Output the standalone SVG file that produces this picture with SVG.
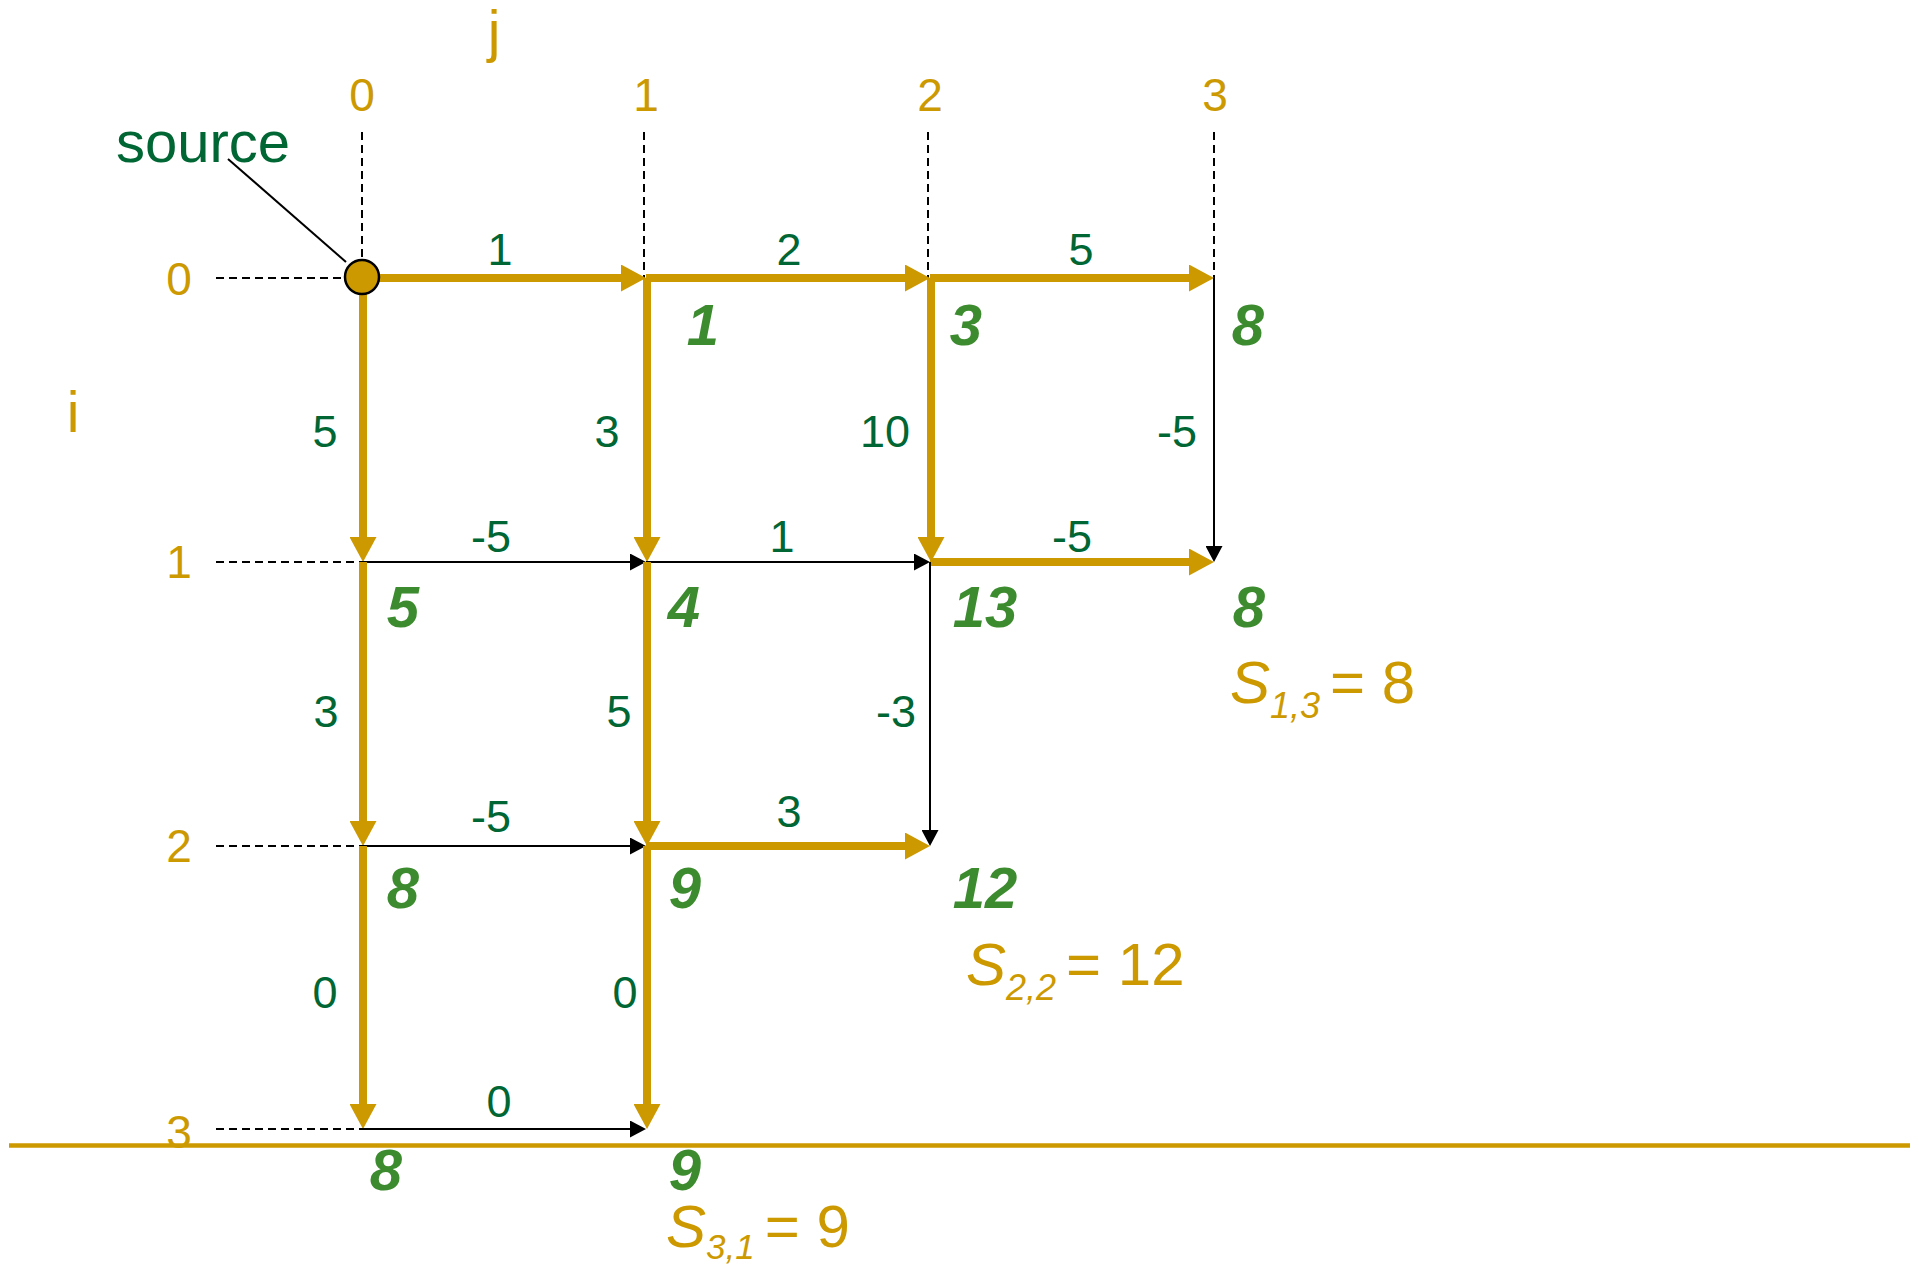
<svg xmlns="http://www.w3.org/2000/svg" width="1919" height="1267" viewBox="0 0 1919 1267">
<style>
text{font-family:"Liberation Sans",Arial,sans-serif}
.ax{fill:#CC9900;font-size:46px;text-anchor:middle}
.ij{fill:#CC9900;font-size:57px;text-anchor:middle}
.w{fill:#006633;font-size:45px;text-anchor:middle}
.v{fill:#3D8B2F;font-size:58px;font-weight:bold;font-style:italic;text-anchor:middle}
.s{fill:#CC9900;font-size:60px}
.dash{stroke:#000;stroke-width:2;stroke-dasharray:8 5;fill:none}
.g{stroke:#CC9900;stroke-width:8;fill:none;marker-end:url(#ga)}
.b{stroke:#000;stroke-width:2;fill:none;marker-end:url(#ba)}
</style>
<defs>
<marker id="ga" viewBox="0 0 25 27" refX="1" refY="13.5" markerWidth="25" markerHeight="27" markerUnits="userSpaceOnUse" orient="auto">
<path d="M0,0 L25,13.5 L0,27 Z" fill="#CC9900"/>
</marker>
<marker id="ba" viewBox="0 0 16 17" refX="1" refY="8.5" markerWidth="16" markerHeight="17" markerUnits="userSpaceOnUse" orient="auto">
<path d="M0,0 L16,8.5 L0,17 Z" fill="#000"/>
</marker>
</defs>
<rect width="1919" height="1267" fill="#fff"/>

<g id="axes">
<text class="ij" x="494" y="51">j</text>
<text class="ij" x="73" y="432">i</text>
<text class="ax" x="362" y="111">0</text>
<text class="ax" x="646" y="111">1</text>
<text class="ax" x="930" y="111">2</text>
<text class="ax" x="1215" y="111">3</text>
<text class="ax" x="179" y="295">0</text>
<text class="ax" x="179" y="578">1</text>
<text class="ax" x="179" y="862">2</text>
<text class="ax" x="179" y="1148">3</text>
<path class="dash" d="M362,132 V261 M644,132 V278 M928,132 V278 M1214,132 V278"/>
<path class="dash" d="M216,278 H345 M216,562 H362 M216,846 H362 M216,1129 H362"/>
<line x1="9" y1="1145.5" x2="1910" y2="1145.5" stroke="#CC9900" stroke-width="4.5"/>
</g>

<g id="connectors">
<line class="g" x1="362" y1="278" x2="622" y2="278"/>
<line class="g" x1="646" y1="278" x2="906" y2="278"/>
<line class="g" x1="930" y1="278" x2="1190" y2="278"/>
<line class="g" x1="363" y1="278" x2="363" y2="538"/>
<line class="g" x1="647" y1="278" x2="647" y2="538"/>
<line class="g" x1="931" y1="278" x2="931" y2="538"/>
<line class="b" x1="1214" y1="278" x2="1214" y2="547"/>
<line class="b" x1="362" y1="562" x2="631" y2="562"/>
<line class="b" x1="646" y1="562" x2="915" y2="562"/>
<line class="g" x1="930" y1="562" x2="1190" y2="562"/>
<line class="g" x1="363" y1="562" x2="363" y2="822"/>
<line class="g" x1="647" y1="562" x2="647" y2="822"/>
<line class="b" x1="930" y1="562" x2="930" y2="831"/>
<line class="b" x1="362" y1="846" x2="631" y2="846"/>
<line class="g" x1="646" y1="846" x2="906" y2="846"/>
<line class="g" x1="363" y1="846" x2="363" y2="1105"/>
<line class="g" x1="647" y1="846" x2="647" y2="1105"/>
<line class="b" x1="362" y1="1129" x2="631" y2="1129"/>
<line x1="228" y1="159" x2="346" y2="262" stroke="#000" stroke-width="2"/>
</g>

<g id="weights">
<text class="w" x="500" y="265">1</text>
<text class="w" x="789" y="265">2</text>
<text class="w" x="1081" y="265">5</text>
<text class="w" x="325" y="447">5</text>
<text class="w" x="607" y="447">3</text>
<text class="w" x="885" y="447">10</text>
<text class="w" x="1177" y="447">-5</text>
<text class="w" x="491" y="552">-5</text>
<text class="w" x="782" y="552">1</text>
<text class="w" x="1072" y="552">-5</text>
<text class="w" x="326" y="727">3</text>
<text class="w" x="619" y="727">5</text>
<text class="w" x="896" y="727">-3</text>
<text class="w" x="491" y="832">-5</text>
<text class="w" x="789" y="827">3</text>
<text class="w" x="325" y="1008">0</text>
<text class="w" x="625" y="1008">0</text>
<text class="w" x="499" y="1117">0</text>
</g>

<g id="source">
<circle cx="362" cy="277" r="17" fill="#CC9900" stroke="#000" stroke-width="2.5"/>
<text x="116" y="162" fill="#006633" font-size="58">source</text>
</g>

<g id="n01"><text class="v" x="703" y="345">1</text></g>
<g id="n02"><text class="v" x="966" y="345">3</text></g>
<g id="n03"><text class="v" x="1248" y="345">8</text></g>
<g id="n10"><text class="v" x="403" y="627">5</text></g>
<g id="n11"><text class="v" x="684" y="627">4</text></g>
<g id="n12"><text class="v" x="985" y="627">13</text></g>
<g id="n13"><text class="v" x="1249" y="627">8</text></g>
<g id="n20"><text class="v" x="403" y="908">8</text></g>
<g id="n21"><text class="v" x="685" y="908">9</text></g>
<g id="n22"><text class="v" x="985" y="908">12</text></g>
<g id="n30"><text class="v" x="386" y="1190">8</text></g>
<g id="n31"><text class="v" x="685" y="1190">9</text></g>

<g id="s13"><text class="s" x="1230" y="703"><tspan font-style="italic">S</tspan><tspan font-style="italic" font-size="36" dy="15">1,3</tspan><tspan dy="-15" dx="10">= 8</tspan></text></g>
<g id="s22"><text class="s" x="966" y="985"><tspan font-style="italic">S</tspan><tspan font-style="italic" font-size="36" dy="15">2,2</tspan><tspan dy="-15" dx="10">= 12</tspan></text></g>
<g id="s31"><text class="s" x="666" y="1247"><tspan font-style="italic">S</tspan><tspan font-style="italic" font-size="35" dy="12">3,1</tspan><tspan dy="-12" dx="10">= 9</tspan></text></g>
</svg>
